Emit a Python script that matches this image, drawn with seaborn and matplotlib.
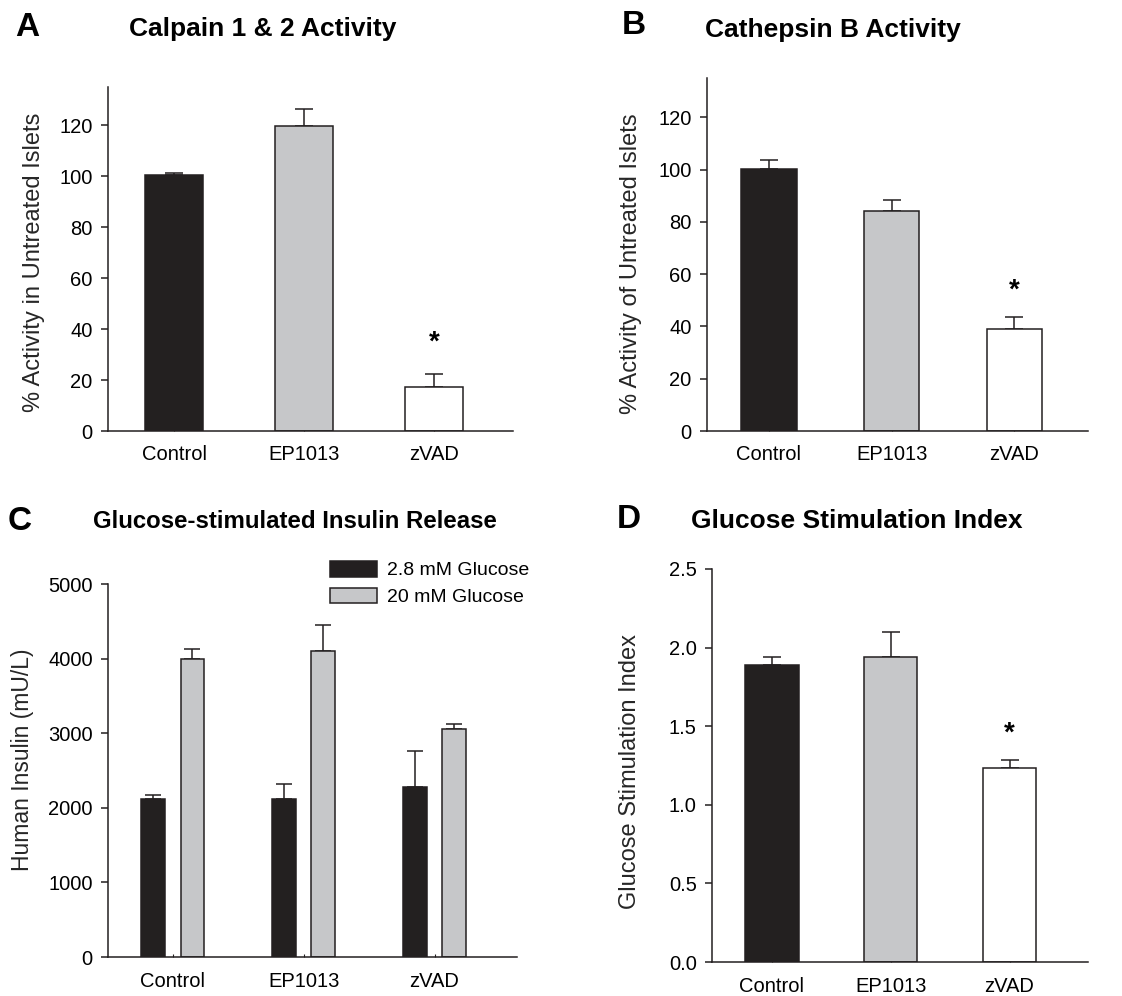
import matplotlib
matplotlib.use("Agg")
import matplotlib.pyplot as plt
from matplotlib.patches import Patch
import numpy as np
import pandas as pd
import seaborn as sns

# ---- data -------------------------------------------------------------
treatments = ["Control", "EP1013", "zVAD"]

calpain_mean = [100.3, 119.5, 17.3]
calpain_sem = [0.8, 7.0, 5.0]

cathepsin_mean = [100.2, 84.1, 39.0]
cathepsin_sem = [3.3, 4.1, 4.7]

glucose_levels = ["2.8 mM Glucose", "20 mM Glucose"]
insulin_low_mean = [2122, 2118, 2279]
insulin_low_sem = [54, 205, 477]
insulin_high_mean = [3999, 4097, 3056]
insulin_high_sem = [124, 348, 67]

gsi_mean = [1.887, 1.940, 1.236]
gsi_sem = [0.055, 0.161, 0.047]

# significance markers: (category index, height of the asterisk)
calpain_star = (2, 37)
cathepsin_star = (2, 55.8)
gsi_star = (2, 1.49)

# ---- style ------------------------------------------------------------
W, H = 1122, 996
DARK = "#231f20"
GREY = "#c6c7c9"
WHITE = "#ffffff"
bar_colors = [DARK, GREY, WHITE]
TICK_FS = 14.5

sns.set_style("ticks")
plt.rcParams["font.family"] = ["Liberation Sans", "DejaVu Sans"]
plt.rcParams["axes.linewidth"] = 1.1
plt.rcParams["axes.edgecolor"] = DARK
plt.rcParams["text.color"] = "black"
plt.rcParams["xtick.color"] = DARK
plt.rcParams["ytick.color"] = DARK
plt.rcParams["xtick.labelcolor"] = "black"
plt.rcParams["ytick.labelcolor"] = "black"

fig = plt.figure(figsize=(W / 100, H / 100), dpi=100)


def px_axes(left, right, top, bottom):
    return fig.add_axes([left / W, 1 - bottom / H, (right - left) / W, (bottom - top) / H])


def style_axes(ax, ylim, yticks, ylabel, label_xy, label_fs, xlim, xpad, yfmt=None):
    ax.set_ylim(*ylim)
    ax.set_xlim(*xlim)
    ax.set_yticks(yticks)
    if yfmt:
        ax.set_yticklabels([yfmt.format(t) for t in yticks])
    sns.despine(ax=ax)
    ax.tick_params(axis="y", direction="out", length=5, width=1.1, pad=6, labelsize=TICK_FS)
    ax.tick_params(axis="x", direction="in", length=2, width=0.8, pad=xpad, labelsize=TICK_FS)
    ax.set_xlabel("")
    ax.set_ylabel(ylabel, fontsize=label_fs)
    ax.yaxis.set_label_coords(*label_xy)


def upper_errorbars(ax, xs, means, sems, capsize):
    ax.errorbar(xs, means, yerr=[np.zeros(len(sems)), sems], fmt="none",
                ecolor=DARK, elinewidth=1.1, capsize=capsize, capthick=1.1, zorder=1)


def add_star(ax, x, y):
    # the asterisk glyph sits high in its line box, so drop the baseline
    ax.annotate("*", (x, y), xytext=(0, -9), textcoords="offset points",
                ha="center", va="baseline", fontsize=20, fontweight="bold")


def bar_centers(ax):
    return sorted(p.get_x() + p.get_width() / 2 for p in ax.patches)


def single_panel(ax, means, sems, star, ylim, yticks, ylabel, label_xy, xlim, xpad, yfmt=None):
    df = pd.DataFrame({"treatment": treatments, "value": means})
    sns.barplot(data=df, x="treatment", y="value", hue="treatment",
                palette=bar_colors, edgecolor=DARK, linewidth=1.1,
                width=0.45, legend=False, ax=ax, zorder=2)
    xs = bar_centers(ax)
    upper_errorbars(ax, xs, means, sems, capsize=6.5)
    idx, sy = star
    add_star(ax, xs[idx], sy)
    style_axes(ax, ylim, yticks, ylabel, label_xy, 17, xlim, xpad, yfmt)


# ---- panel A ----------------------------------------------------------
axA = px_axes(108, 513, 87, 431)
single_panel(axA, calpain_mean, calpain_sem, calpain_star, (0, 135),
             [0, 20, 40, 60, 80, 100, 120], "% Activity in Untreated Islets",
             (-0.155, 0.49), (-0.51, 2.61), 10)

# ---- panel B ----------------------------------------------------------
axB = px_axes(707, 1088, 78, 431)
single_panel(axB, cathepsin_mean, cathepsin_sem, cathepsin_star, (0, 135),
             [0, 20, 40, 60, 80, 100, 120], "% Activity of Untreated Islets",
             (-0.17, 0.473), (-0.505, 2.6), 10)

# ---- panel C ----------------------------------------------------------
axC = px_axes(108, 517, 584, 957)
ins = pd.DataFrame({
    "treatment": treatments * 2,
    "glucose": [glucose_levels[0]] * 3 + [glucose_levels[1]] * 3,
    "insulin": insulin_low_mean + insulin_high_mean,
})
sns.barplot(data=ins, x="treatment", y="insulin", hue="glucose",
            hue_order=glucose_levels, palette=[DARK, GREY], edgecolor=DARK,
            linewidth=1.1, width=0.6, gap=0.4, legend=False, ax=axC, zorder=2)
for cont, means, sems in zip(axC.containers,
                             [insulin_low_mean, insulin_high_mean],
                             [insulin_low_sem, insulin_high_sem]):
    xs = [b.get_x() + b.get_width() / 2 for b in cont]
    upper_errorbars(axC, xs, means, sems, capsize=5.5)
style_axes(axC, (0, 5000), [0, 1000, 2000, 3000, 4000, 5000], "Human Insulin (mU/L)",
           (-0.18, 0.528), 16.5, (-0.494, 2.63), 10.5)
handles = [Patch(facecolor=c, edgecolor=DARK, linewidth=1.1) for c in (DARK, GREY)]
axC.legend(handles, glucose_levels, loc="upper left",
           bbox_to_anchor=(330 / W, 1 - 561 / H), bbox_transform=fig.transFigure,
           frameon=False, fontsize=14, handlelength=2.4, handleheight=0.85,
           handletextpad=0.55, labelspacing=0.42, borderpad=0, borderaxespad=0)

# ---- panel D ----------------------------------------------------------
axD = px_axes(712, 1088, 569, 962)
single_panel(axD, gsi_mean, gsi_sem, gsi_star, (0, 2.5),
             [0, 0.5, 1.0, 1.5, 2.0, 2.5], "Glucose Stimulation Index",
             (-0.19, 0.485), (-0.503, 2.66), 10.5, yfmt="{:.1f}")

# ---- panel letters and titles ----------------------------------------
def fig_text(x, y, s, size):
    fig.text(x / W, 1 - y / H, s, ha="center", va="center",
             fontsize=size, fontweight="bold")

fig_text(27, 27, "A", 24)
fig_text(263, 29, "Calpain 1 & 2 Activity", 19)
fig_text(634, 25, "B", 24)
fig_text(833, 30, "Cathepsin B Activity", 19)
fig_text(20, 521, "C", 24)
fig_text(295, 522, "Glucose-stimulated Insulin Release", 17.3)
fig_text(629, 519, "D", 24)
fig_text(857, 521, "Glucose Stimulation Index", 19)

fig.savefig("out.png", dpi=100)
